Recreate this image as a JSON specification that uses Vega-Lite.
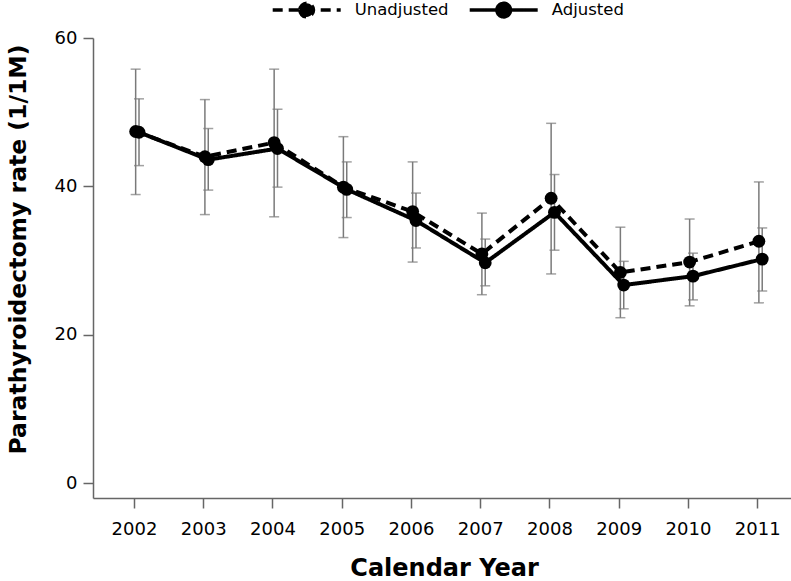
{
  "$schema": "https://vega.github.io/schema/vega-lite/v6.json",
  "width": 698,
  "height": 460,
  "autosize": {"type": "none"},
  "padding": {"left": 93, "top": 38, "right": 0, "bottom": 83},
  "background": "white",
  "config": {
    "view": {"stroke": null},
    "font": "DejaVu Sans",
    "axis": {"grid": false, "domainColor": "#666666", "tickColor": "#666666", "domainWidth": 1.5, "tickWidth": 1.5, "tickSize": 10, "labelFont": "DejaVu Sans", "labelFontSize": 18, "labelColor": "black", "titleFont": "DejaVu Sans", "titleFontWeight": "bold", "titleColor": "black"},
    "legend": {"labelFont": "DejaVu Sans", "labelFontSize": 16.5, "labelColor": "black"}
  },
  "data": {
    "values": [
      {"year": "2002", "series": "Unadjusted", "rate": 47.4, "lower": 38.9, "upper": 55.8},
      {"year": "2003", "series": "Unadjusted", "rate": 44.0, "lower": 36.2, "upper": 51.7},
      {"year": "2004", "series": "Unadjusted", "rate": 45.9, "lower": 35.9, "upper": 55.8},
      {"year": "2005", "series": "Unadjusted", "rate": 39.9, "lower": 33.1, "upper": 46.7},
      {"year": "2006", "series": "Unadjusted", "rate": 36.6, "lower": 29.8, "upper": 43.3},
      {"year": "2007", "series": "Unadjusted", "rate": 30.9, "lower": 25.4, "upper": 36.4},
      {"year": "2008", "series": "Unadjusted", "rate": 38.4, "lower": 28.2, "upper": 48.5},
      {"year": "2009", "series": "Unadjusted", "rate": 28.4, "lower": 22.3, "upper": 34.5},
      {"year": "2010", "series": "Unadjusted", "rate": 29.8, "lower": 23.9, "upper": 35.6},
      {"year": "2011", "series": "Unadjusted", "rate": 32.6, "lower": 24.3, "upper": 40.6},
      {"year": "2002", "series": "Adjusted", "rate": 47.3, "lower": 42.8, "upper": 51.8},
      {"year": "2003", "series": "Adjusted", "rate": 43.6, "lower": 39.5, "upper": 47.8},
      {"year": "2004", "series": "Adjusted", "rate": 45.1, "lower": 39.9, "upper": 50.4},
      {"year": "2005", "series": "Adjusted", "rate": 39.6, "lower": 35.8, "upper": 43.3},
      {"year": "2006", "series": "Adjusted", "rate": 35.4, "lower": 31.7, "upper": 39.1},
      {"year": "2007", "series": "Adjusted", "rate": 29.7, "lower": 26.6, "upper": 32.9},
      {"year": "2008", "series": "Adjusted", "rate": 36.5, "lower": 31.4, "upper": 41.6},
      {"year": "2009", "series": "Adjusted", "rate": 26.7, "lower": 23.5, "upper": 29.9},
      {"year": "2010", "series": "Adjusted", "rate": 27.9, "lower": 24.7, "upper": 31.0},
      {"year": "2011", "series": "Adjusted", "rate": 30.2, "lower": 25.9, "upper": 34.4}
    ]
  },
  "encoding": {
    "x": {
      "field": "year", "type": "ordinal",
      "scale": {"type": "point", "padding": 0.54, "align": 0.548},
      "axis": {"title": "Calendar Year", "labelAngle": 0, "labelPadding": 12, "titleFontSize": 24, "titleX": 351, "titleY": 77, "titleBaseline": "alphabetic", "titleAnchor": null}
    },
    "xOffset": {
      "field": "series", "type": "nominal",
      "scale": {"domain": ["Unadjusted", "Adjusted"], "range": [0, 6.7]}
    }
  },
  "layer": [
    {
      "mark": {"type": "rule", "color": "#7a7a7a", "strokeWidth": 1.5},
      "encoding": {
        "y": {"field": "lower", "type": "quantitative",
          "scale": {"domain": [-2, 60], "nice": false, "zero": false},
          "axis": {"title": "Parathyroidectomy rate (1/1M)", "values": [0, 20, 40, 60], "labelPadding": 6, "titleFontSize": 23.5, "titleX": -68, "titleY": 211, "titleBaseline": "alphabetic", "titleAngle": 270}},
        "y2": {"field": "upper"}
      }
    },
    {
      "mark": {"type": "tick", "color": "#7a7a7a", "thickness": 1.5, "size": 10, "orient": "horizontal"},
      "encoding": {"y": {"field": "lower", "type": "quantitative"}}
    },
    {
      "mark": {"type": "tick", "color": "#7a7a7a", "thickness": 1.5, "size": 10, "orient": "horizontal"},
      "encoding": {"y": {"field": "upper", "type": "quantitative"}}
    },
    {
      "mark": {"type": "line", "color": "black", "strokeWidth": 4},
      "encoding": {
        "y": {"field": "rate", "type": "quantitative"},
        "strokeDash": {
          "field": "series", "type": "nominal",
          "scale": {"domain": ["Unadjusted", "Adjusted"], "range": [[10, 6], [1, 0]]},
          "legend": {
            "title": null, "orient": "none", "direction": "horizontal",
            "legendX": 177.7, "legendY": -64, "padding": 0,
            "symbolType": "M-1,0H1M-0.2,0A0.2,0.2 0 1,0 0.2,0A0.2,0.2 0 1,0 -0.2,0Z",
            "symbolSize": 4624, "symbolStrokeWidth": 3.5, "symbolStrokeColor": "black", "symbolFillColor": "black",
            "labelOffset": 12, "columnPadding": 14,
            "encode": {"symbols": {"update": {"fill": {"value": "black"}, "stroke": {"value": "black"}, "strokeWidth": {"value": 3.5}}}}
          }
        }
      }
    },
    {
      "mark": {"type": "point", "filled": true, "color": "black", "size": 165, "opacity": 1},
      "encoding": {"y": {"field": "rate", "type": "quantitative"}}
    }
  ]
}
